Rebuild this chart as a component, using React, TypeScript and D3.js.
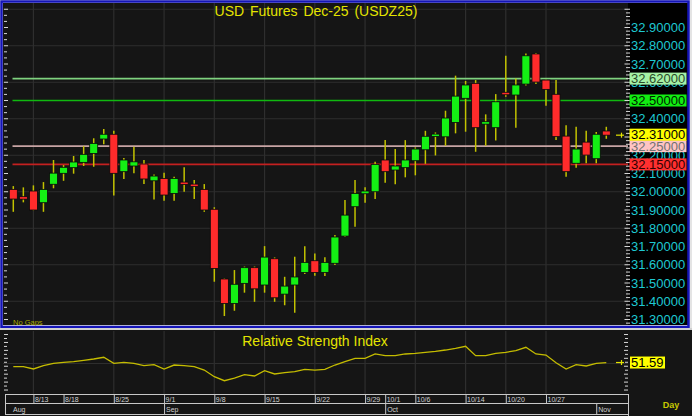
import React from "react";
import * as d3 from "d3";

const dates = [
  "8/11","8/12","8/13","8/14","8/15",
  "8/18","8/19","8/20","8/21","8/22",
  "8/25","8/26","8/27","8/28","8/29",
  "9/1","9/2","9/3","9/4","9/5",
  "9/8","9/9","9/10","9/11","9/12",
  "9/15","9/16","9/17","9/18","9/19",
  "9/22","9/23","9/24","9/25","9/26",
  "9/29","9/30","10/1","10/2","10/3",
  "10/6","10/7","10/8","10/9","10/10",
  "10/14","10/15","10/16","10/17",
  "10/20","10/21","10/22","10/23",
  "10/27","10/28","10/29","10/30","10/31",
  "11/3","11/4",
];

const opens = [
  32.013, 31.973, 32.004, 31.94, 32.041, 32.101, 32.132, 32.161, 32.21, 32.289,
  32.315, 32.11, 32.141, 32.152, 32.06, 32.073, 31.991, 32.053, 32.042, 32.013,
  31.904, 31.522, 31.388, 31.498, 31.584, 31.489, 31.633, 31.439, 31.489, 31.558,
  31.622, 31.558, 31.608, 31.757, 31.918, 31.989, 32.0, 32.174, 32.119, 32.132,
  32.17, 32.23, 32.307, 32.301, 32.38, 32.512, 32.594, 32.371, 32.351, 32.545,
  32.53, 32.59, 32.755, 32.612, 32.534, 32.305, 32.156, 32.272, 32.181, 32.333,
];
const highs = [
  32.031, 32.024, 32.035, 32.053, 32.174, 32.146, 32.196, 32.25, 32.293, 32.344,
  32.334, 32.185, 32.247, 32.174, 32.095, 32.104, 32.082, 32.134, 32.064, 32.042,
  31.915, 31.525, 31.571, 31.59, 31.59, 31.702, 31.64, 31.534, 31.644, 31.702,
  31.662, 31.641, 31.763, 31.955, 32.064, 32.024, 32.164, 32.283, 32.234, 32.283,
  32.243, 32.334, 32.325, 32.444, 32.636, 32.607, 32.612, 32.424, 32.535, 32.745,
  32.621, 32.758, 32.76, 32.615, 32.612, 32.365, 32.356, 32.334, 32.327, 32.356,
];
const lows = [
  31.89, 31.942, 31.898, 31.89, 32.019, 32.06, 32.099, 32.141, 32.137, 32.26,
  31.98, 32.07, 32.101, 32.042, 31.958, 31.951, 31.951, 32.0, 31.96, 31.89,
  31.507, 31.319, 31.348, 31.447, 31.397, 31.447, 31.397, 31.378, 31.337, 31.549,
  31.54, 31.538, 31.598, 31.752, 31.808, 31.94, 31.96, 32.049, 32.041, 32.079,
  32.09, 32.153, 32.199, 32.252, 32.32, 32.329, 32.219, 32.252, 32.281, 32.521,
  32.351, 32.582, 32.59, 32.471, 32.283, 32.082, 32.132, 32.156, 32.156, 32.29,
];
const closes = [
  31.96, 31.96, 31.9, 32.013, 32.102, 32.134, 32.163, 32.205, 32.265, 32.315,
  32.101, 32.174, 32.164, 32.07, 32.086, 31.982, 32.073, 32.041, 32.031, 31.9,
  31.58, 31.388, 31.493, 31.584, 31.468, 31.642, 31.419, 31.483, 31.533, 31.613,
  31.558, 31.613, 31.752, 31.872, 31.991, 32.004, 32.15, 32.11, 32.141, 32.174,
  32.234, 32.304, 32.316, 32.404, 32.524, 32.585, 32.351, 32.384, 32.493, 32.532,
  32.585, 32.745, 32.601, 32.561, 32.302, 32.11, 32.234, 32.201, 32.315, 32.31,
];

const rsiValues = [
  44.8, 44.8, 41.0, 46.4, 50.3, 52.0, 53.0, 55.2, 57.4, 60.2,
  50.3, 52.0, 50.3, 46.4, 48.0, 41.0, 47.5, 46.4, 44.8, 39.3,
  28.4, 21.8, 26.2, 31.6, 29.5, 38.2, 32.8, 34.9, 36.6, 40.5,
  39.3, 40.5, 47.5, 53.0, 58.5, 58.5, 65.6, 62.8, 62.8, 65.6,
  66.7, 68.4, 70.0, 72.1, 74.9, 78.2, 62.8, 62.8, 66.7, 68.4,
  71.0, 76.6, 65.6, 63.9, 51.3, 41.0, 48.0, 45.9, 50.3, 51.59,
];

// 32.3 is fully covered by the last-price box in the reference, so it is left out
const priceTicks = [31.3, 31.4, 31.5, 31.6, 31.7, 31.8, 31.9, 32.0, 32.1, 32.2, 32.4, 32.5, 32.6, 32.7, 32.8, 32.9];
const priceGrid = [31.4, 31.6, 31.8, 32.0, 32.2, 32.4, 32.6, 32.8, 33.0];
const levelValues = [32.62, 32.5, 32.25, 32.15];
const lastPrice = 32.31;
const lastRsi = 51.59;
const rsiGrid = [50];

const dayLabelDates = ["8/13", "8/18", "8/25", "9/1", "9/8", "9/15", "9/22", "9/29", "10/1", "10/6", "10/14", "10/20", "10/27"];
const gridDates = ["8/13", "8/25", "9/1", "9/8", "9/15", "9/22", "9/29", "10/6", "10/14", "10/20", "10/27"];
const monthLabels = ["Aug", "Sep", "Oct", "Nov"];
const monthStartDates = ["8/11", "9/1", "10/1", "11/3"];

const titleText = "USD Futures Dec-25 (USDZ25)";
const rsiTitle = "Relative Strength Index";

// styles
const W = 692;
const H = 416;
const FONT = "'Liberation Sans', Arial, sans-serif";
const PLOT_BG = "#151515";
const GRID = "#2e2e2e";
const UP = "#14f014";
const DOWN = "#ff2b2b";
const WICK = "#c2c200";
const AXIS_TEXT = "#1ec8d2";
const TITLE = "#e4e400";
const LINE_WHITE = "#c8c8c8";
const levelStyles = [
  { line: "#7fd27f", bg: "#a6f2a6", text: "#2a4a2a" },
  { line: "#10b810", bg: "#12ee12", text: "#002200" },
  { line: "#c8a4a4", bg: "#ffc4c4", text: "#707070" },
  { line: "#c42020", bg: "#ff3030", text: "#300000" },
];

export default function App() {
  const x = d3.scalePoint<string>().domain(dates).range([13.3, 606.3]);
  const y = d3.scaleLinear().domain([31.3, 32.9]).range([319.5, 27.5]);
  const ry = d3.scaleLinear().domain([0, 100]).range([394, 333]);

  const mainTop = 3;
  const mainBottom = 325;
  const plotLeft = 3;
  const plotRight = 628;

  const rsiLine = d3
    .line<number>()
    .x((_, i) => x(dates[i]) as number)
    .y((d) => ry(d));

  const rightMinor = d3.range(31.24, 33.0, 0.02).filter((v) => y(v) > 5 && y(v) < 324);
  const leftMinor = d3.range(31.2, 33.0, 0.1 / 3).filter((v) => y(v) > 8 && y(v) < 322);
  const rsiTicks = d3.range(0, 101, 6.5).filter((v) => ry(v) >= 334 && ry(v) <= 393);

  const bw = 8;
  const boxH = 12;

  return (
    <div>
      <style>{`body{margin:0;background:#151515}`}</style>
      <svg width={W} height={H} style={{ display: "block" }} fontFamily={FONT}>
        <rect x={0} y={0} width={W} height={H} fill="#e4e4e4" />
        {/* main panel */}
        <rect x={plotLeft} y={mainTop} width={plotRight - plotLeft} height={mainBottom - mainTop} fill={PLOT_BG} />
        <rect x={plotRight} y={mainTop} width={688 - plotRight} height={mainBottom - mainTop} fill="#000" />
        {priceGrid.map((v) => (
          <line key={"hg" + v} x1={plotLeft} x2={plotRight} y1={y(v)} y2={y(v)} stroke={GRID} strokeWidth={1.2} />
        ))}
        {gridDates.map((d) => (
          <line key={"vg" + d} x1={x(d)} x2={x(d)} y1={mainTop} y2={mainBottom} stroke={GRID} strokeWidth={1.2} />
        ))}
        {levelValues.map((v, i) => (
          <line key={"lv" + v} x1={12.5} x2={plotRight} y1={y(v)} y2={y(v)} stroke={levelStyles[i].line} strokeWidth={1.6} />
        ))}
        {dates.map((d, i) => (
          <line key={"w" + d} x1={x(d)} x2={x(d)} y1={y(highs[i])} y2={y(lows[i])} stroke={WICK} strokeWidth={1.5} />
        ))}
        {dates.map((d, i) => {
          const o = opens[i];
          const c = closes[i];
          const top = y(Math.max(o, c));
          const h = Math.max(2.5, Math.abs(y(o) - y(c)));
          return (
            <rect
              key={"b" + d}
              x={(x(d) as number) - bw / 2}
              y={top}
              width={bw}
              height={h}
              fill={c >= o ? UP : DOWN}
              stroke="#0a0a0a"
              strokeWidth={0.8}
            />
          );
        })}
        {/* left ticks */}
        {leftMinor.map((v, i) => (
          <line key={"lt" + i} x1={4} x2={i % 3 === 0 ? 8 : 7} y1={y(v)} y2={y(v)} stroke="#d8d8d8" strokeWidth={1} />
        ))}
        {/* right ticks */}
        {rightMinor.map((v, i) => (
          <line key={"rt" + i} x1={Math.abs(Math.round(v * 10) - v * 10) < 0.01 ? 624.5 : 626} x2={630} y1={y(v)} y2={y(v)} stroke="#d8d8d8" strokeWidth={1} />
        ))}
        <text x={316} y={16} textAnchor="middle" fill={TITLE} fontSize={14} wordSpacing={2}>
          {titleText}
        </text>
        <text x={13} y={325} fill="#a8a800" fontSize={7.5}>
          No Gaps
        </text>
        {/* current price marker */}
        <line x1={616} x2={624} y1={y(lastPrice)} y2={y(lastPrice)} stroke={TITLE} strokeWidth={1.2} />
        <line x1={621.5} x2={621.5} y1={y(lastPrice) - 2.5} y2={y(lastPrice) + 2.5} stroke={TITLE} strokeWidth={1.2} />
        {/* price labels */}
        {priceTicks.map((v) => (
          <text key={"pl" + v} x={631} y={y(v)} dy="0.36em" fill={AXIS_TEXT} fontSize={13}>
            {v.toFixed(5)}
          </text>
        ))}
        {levelValues.map((v, i) => (
          <g key={"lb" + v}>
            <rect x={629.5} y={y(v) - boxH / 2} width={57} height={boxH} fill={levelStyles[i].bg} />
            <text x={631} y={y(v)} dy="0.36em" fill={levelStyles[i].text} fontSize={13}>
              {v.toFixed(5)}
            </text>
          </g>
        ))}
        <rect x={629.5} y={y(lastPrice) - boxH / 2 - 0.5} width={57} height={boxH} fill="#ffff00" />
        <text x={631} y={y(lastPrice) - 0.5} dy="0.36em" fill="#000" fontSize={13}>
          {lastPrice.toFixed(5)}
        </text>
        <rect x={1.5} y={1.5} width={687} height={325.5} fill="none" stroke="#1414b8" strokeWidth={2.5} />

        {/* RSI panel */}
        <rect x={0} y={330} width={W} height={H - 330} fill={PLOT_BG} />
        {rsiGrid.map((v) => (
          <line key={"rg" + v} x1={plotLeft} x2={plotRight} y1={ry(v)} y2={ry(v)} stroke={GRID} strokeWidth={1.2} />
        ))}
        {gridDates.map((d) => (
          <line key={"rvg" + d} x1={x(d)} x2={x(d)} y1={331} y2={394} stroke={GRID} strokeWidth={1.2} />
        ))}
        {rsiTicks.map((v, i) => (
          <g key={"rsit" + i}>
            <line x1={4} x2={i % 2 === 0 ? 8 : 7} y1={ry(v)} y2={ry(v)} stroke="#d8d8d8" strokeWidth={1} />
            <line x1={i % 2 === 0 ? 624 : 625} x2={628} y1={ry(v)} y2={ry(v)} stroke="#d8d8d8" strokeWidth={1} />
          </g>
        ))}
        <path d={rsiLine(rsiValues) || ""} fill="none" stroke="#c4bc00" strokeWidth={1.3} />
        <text x={315} y={346} textAnchor="middle" fill={TITLE} fontSize={14}>
          {rsiTitle}
        </text>
        <line x1={616} x2={624} y1={ry(lastRsi)} y2={ry(lastRsi)} stroke={TITLE} strokeWidth={1.2} />
        <line x1={621.5} x2={621.5} y1={ry(lastRsi) - 2.5} y2={ry(lastRsi) + 2.5} stroke={TITLE} strokeWidth={1.2} />
        <rect x={630} y={ry(lastRsi) - 6} width={35} height={12} fill="#ffff00" />
        <text x={631} y={ry(lastRsi)} dy="0.36em" fill="#000" fontSize={13}>
          {lastRsi.toFixed(2)}
        </text>
        <line x1={0} x2={W} y1={329} y2={329} stroke="#d0d0d0" strokeWidth={2} />

        {/* date strip */}
        <line x1={5} x2={628} y1={394.5} y2={394.5} stroke={LINE_WHITE} strokeWidth={1} />
        <line x1={5} x2={628} y1={403.5} y2={403.5} stroke={LINE_WHITE} strokeWidth={1} />
        <line x1={5} x2={628} y1={414.5} y2={414.5} stroke={LINE_WHITE} strokeWidth={1} />
        <line x1={5.5} x2={5.5} y1={394} y2={415} stroke={LINE_WHITE} strokeWidth={1} />
        <line x1={628.5} x2={628.5} y1={394} y2={416} stroke={LINE_WHITE} strokeWidth={1} />
        {dayLabelDates.map((d) => (
          <g key={"dl" + d}>
            <line x1={(x(d) as number) + 0.5} x2={(x(d) as number) + 0.5} y1={394} y2={403.5} stroke={LINE_WHITE} strokeWidth={1} />
            <text x={(x(d) as number) + 1.5} y={401.5} fill="#d0d0d0" fontSize={7}>
              {d}
            </text>
          </g>
        ))}
        {monthLabels.map((m, i) => {
          const mx = x(monthStartDates[i]) as number;
          return (
            <g key={"ml" + m}>
              {i > 0 && <line x1={mx + 0.5} x2={mx + 0.5} y1={403.5} y2={415} stroke={LINE_WHITE} strokeWidth={1} />}
              <text x={i === 0 ? 13 : mx + 2} y={411.5} fill="#d0d0d0" fontSize={7}>
                {m}
              </text>
            </g>
          );
        })}
        <text x={671} y={408} textAnchor="middle" fill="#c8c800" fontSize={9} fontWeight="bold">
          Day
        </text>
      </svg>
    </div>
  );
}
